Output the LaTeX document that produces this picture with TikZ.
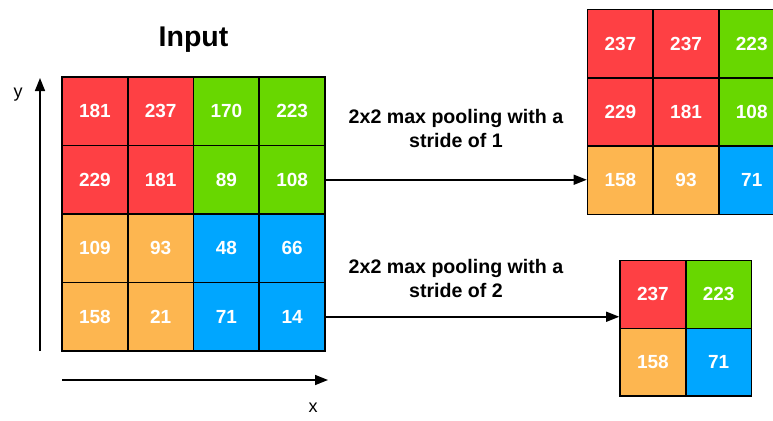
\documentclass[tikz,border=0pt]{standalone}
\usepackage{fontspec}
\setmainfont{Liberation Sans}
\usetikzlibrary{arrows.meta}
\definecolor{cr}{RGB}{254,64,68}
\definecolor{cg}{RGB}{104,215,0}
\definecolor{co}{RGB}{253,182,80}
\definecolor{cb}{RGB}{0,166,255}
\tikzset{
  cell/.style={draw=black, line width=1.6pt, text=white, font=\bfseries\fontsize{19}{19}\selectfont, inner sep=0pt},
  incell/.style={cell, minimum width=65.75pt, minimum height=68.5pt},
  o1cell/.style={cell, minimum width=65.7pt, minimum height=68.3pt},
  o2cell/.style={cell, minimum width=65.8pt, minimum height=67.8pt},
  conn/.style={line width=1.5pt, -{Triangle[length=13pt,width=10pt]}},
  lbl/.style={font=\bfseries\fontsize{19.6}{24}\selectfont, align=center},
}
\begin{document}
\begin{tikzpicture}[x=1pt,y=-1pt]
\useasboundingbox (0,0) rectangle (773,420);
\clip (0,0) rectangle (773,420);
\node[font=\bfseries\fontsize{28.5}{28.5}\selectfont] (title) at (193.5,40) {Input};
\foreach \r/\c/\v/\f in {1/1/181/cr,1/2/237/cr,1/3/170/cg,1/4/223/cg,
  2/1/229/cr,2/2/181/cr,2/3/89/cg,2/4/108/cg,
  3/1/109/co,3/2/93/co,3/3/48/cb,3/4/66/cb,
  4/1/158/co,4/2/21/co,4/3/71/cb,4/4/14/cb}
  \node[incell, fill=\f] (in-\r-\c) at ({62+65.75*(\c-0.5)},{77+68.5*(\r-0.5)}) {\v};
\foreach \r/\c/\v/\f in {1/1/237/cr,1/2/237/cr,1/3/223/cg,
  2/1/229/cr,2/2/181/cr,2/3/108/cg,
  3/1/158/co,3/2/93/co,3/3/71/cb}
  \node[o1cell, fill=\f] (oa-\r-\c) at ({587.5+65.7*(\c-0.5)},{9.5+68.3*(\r-0.5)}) {\v};
\foreach \r/\c/\v/\f in {1/1/237/cr,1/2/223/cg,2/1/158/co,2/2/71/cb}
  \node[o2cell, fill=\f] (ob-\r-\c) at ({620+65.8*(\c-0.5)},{260.5+67.8*(\r-0.5)}) {\v};
\node[lbl] (l1) at (456,128) {2x2 max pooling with a\\stride of 1};
\node[lbl] (l2) at (456,278.5) {2x2 max pooling with a\\stride of 2};
\draw[conn] (in-2-4.east) -- (in-2-4.east -| oa-3-1.west);
\draw[conn] (in-4-4.east) -- (in-4-4.east -| ob-1-1.west);
\coordinate (ya) at (40,351);
\coordinate (yb) at (40,78);
\coordinate (xa) at (62,380);
\coordinate (xb) at (328,380);
\draw[conn] (ya) -- (yb);
\draw[conn] (xa) -- (xb);
\node[font=\fontsize{18}{18}\selectfont] (ylab) at (18,95) {y};
\node[font=\fontsize{18}{18}\selectfont] (xlab) at (313,408) {x};
\end{tikzpicture}
\end{document}
